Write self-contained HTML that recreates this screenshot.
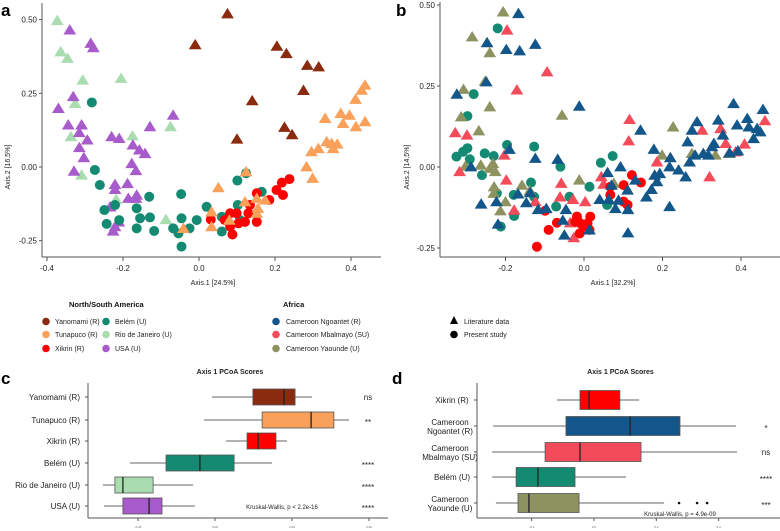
<!DOCTYPE html>
<html><head><meta charset="utf-8"><style>
html,body{margin:0;padding:0;background:#fff;}
svg{display:block;font-family:"Liberation Sans",sans-serif;}
</style></head><body>
<svg id="fig" width="780" height="531" viewBox="0 0 780 531" xmlns="http://www.w3.org/2000/svg">
<g id="layer"></g>
</svg>
<script>
// ---------- DATA ----------
const groupsA = ["Yanomami (R)","Tunapuco (R)","Xikrin (R)","Belém (U)","Rio de Janeiro (U)","USA (U)"];
const colorsA = ["#8a2a0e","#f9a05a","#ff0000","#148a73","#a9ddb0","#a85bcb"];
const shapesA = ["tri","tri","circ","circ","tri","tri"];
const ptsYanomami = [[0.075,0.52],[-0.01,0.415],[0.205,0.41],[0.23,0.385],[0.285,0.345],[0.315,0.34],[0.14,0.225],[0.275,0.26],[0.225,0.135],[0.245,0.11],[0.10,0.095]];
const ptsTunapuco = [[0.437,0.278],[0.428,0.261],[0.412,0.23],[0.437,0.154],[0.396,0.176],[0.373,0.182],[0.379,0.148],[0.413,0.137],[0.332,0.165],[0.336,0.086],[0.349,0.08],[0.364,0.078],[0.353,0.063],[0.314,0.063],[0.296,0.052],[0.283,0.001],[0.299,-0.038],[0.124,-0.016],[0.051,-0.07],[0.121,-0.118],[0.152,-0.106],[0.174,-0.112],[0.155,-0.14],[0.152,-0.157],[0.033,-0.152],[0.033,-0.202],[0.08,-0.18],[-0.041,-0.208]];
const ptsXikrinA = [[0.238,-0.041],[0.218,-0.053],[0.204,-0.078],[0.221,-0.095],[0.185,-0.112],[0.152,-0.089],[0.13,-0.157],[0.152,-0.186],[0.121,-0.186],[0.104,-0.191],[0.082,-0.157],[0.068,-0.18],[0.082,-0.202],[0.088,-0.229],[0.031,-0.178],[0.099,-0.157],[0.134,-0.129]];
const ptsBelemA = [[-0.282,0.219],[-0.274,-0.01],[-0.261,-0.061],[-0.249,-0.146],[-0.243,-0.193],[-0.221,-0.129],[-0.21,-0.18],[-0.164,-0.14],[-0.164,-0.208],[-0.155,-0.174],[-0.131,-0.101],[-0.129,-0.171],[-0.118,-0.217],[-0.047,-0.092],[-0.046,-0.174],[-0.068,-0.208],[-0.054,-0.225],[-0.046,-0.27],[-0.025,-0.208],[-0.006,-0.18],[0.02,-0.135],[0.06,-0.169],[0.06,-0.219],[0.101,-0.046],[0.124,-0.021],[0.108,-0.18],[0.165,-0.084],[0.102,-0.129]];
const ptsRio = [[-0.373,0.497],[-0.364,0.391],[-0.346,0.369],[-0.306,0.295],[-0.205,0.301],[-0.326,0.216],[-0.337,0.103],[-0.309,-0.027],[-0.175,0.106],[-0.075,0.137],[-0.218,-0.11],[-0.087,-0.178]];
const ptsUSA = [[-0.34,0.465],[-0.285,0.42],[-0.278,0.405],[-0.331,0.239],[-0.37,0.199],[-0.344,0.143],[-0.309,0.143],[-0.315,0.117],[-0.315,0.066],[-0.294,0.092],[-0.303,0.032],[-0.329,-0.014],[-0.23,0.103],[-0.21,0.097],[-0.129,0.137],[-0.068,0.176],[-0.174,0.075],[-0.157,0.058],[-0.142,0.046],[-0.177,0.012],[-0.166,-0.012],[-0.221,-0.059],[-0.221,-0.076],[-0.188,-0.056],[-0.186,-0.106],[-0.164,-0.095],[-0.166,-0.106],[-0.234,-0.135],[-0.211,-0.186],[-0.221,-0.202],[-0.226,-0.217]];

const groupsB = ["Cameroon Ngoantet (R)","Cameroon Mbalmayo (SU)","Cameroon Yaounde (U)","Belém (U)","Xikrin (R)"];
const colorsB = ["#12568a","#f44b5b","#8e9260","#148a73","#ff0000"];
const shapesB = ["tri","tri","tri","circ","circ"];
const ptsNgoantet = [[-0.167,0.474],[-0.247,0.384],[-0.198,0.363],[-0.164,0.359],[-0.124,0.379],[-0.324,0.225],[-0.249,0.263],[-0.012,0.188],[-0.288,0.001],[-0.19,0.055],[-0.124,0.027],[-0.067,0.024],[-0.262,-0.114],[-0.223,-0.107],[-0.219,-0.176],[-0.168,-0.083],[-0.147,-0.11],[-0.137,-0.079],[-0.117,-0.131],[-0.096,-0.128],[-0.054,-0.164],[-0.05,-0.21],[-0.046,-0.131],[0.014,-0.194],[0.06,-0.017],[0.07,-0.056],[0.093,0.001],[0.04,-0.1],[0.063,-0.1],[0.088,-0.102],[0.08,-0.128],[0.112,-0.131],[0.111,-0.071],[0.131,-0.04],[0.144,0.114],[0.112,-0.203],[0.159,-0.092],[0.172,-0.069],[0.178,0.055],[0.18,-0.025],[0.193,-0.02],[0.186,-0.045],[0.218,-0.122],[0.22,0.029],[0.218,0.001],[0.241,-0.009],[0.259,-0.03],[0.264,0.078],[0.269,0.016],[0.275,0.114],[0.288,0.14],[0.283,0.037],[0.304,0.042],[0.317,0.037],[0.326,0.063],[0.331,0.073],[0.342,0.145],[0.354,0.099],[0.381,0.196],[0.371,0.044],[0.39,0.13],[0.392,0.05],[0.416,0.15],[0.42,0.124],[0.432,0.088],[0.441,0.119],[0.449,0.109],[0.456,0.178]];
const ptsMbalmayo = [[-0.196,0.423],[-0.094,0.294],[-0.171,0.238],[-0.328,0.106],[-0.298,0.099],[-0.317,-0.014],[-0.203,0.037],[-0.198,-0.04],[-0.178,-0.133],[-0.124,-0.107],[-0.058,-0.05],[-0.061,-0.092],[-0.028,-0.1],[0.003,-0.107],[-0.026,-0.218],[-0.035,-0.172],[0.044,-0.03],[0.116,0.147],[0.114,0.081],[0.186,0.016],[0.301,0.114],[0.32,-0.03],[0.348,0.119],[0.361,0.073],[0.409,0.071],[0.386,0.047],[0.461,0.143],[0.05,-0.053]];
const ptsYaounde = [[-0.206,0.479],[-0.285,0.402],[-0.24,0.353],[-0.252,0.265],[-0.307,0.24],[-0.313,0.155],[-0.24,0.186],[-0.268,0.112],[-0.056,0.16],[-0.302,0.003],[-0.263,0.006],[-0.24,-0.004],[-0.232,0.011],[-0.226,-0.014],[-0.229,-0.061],[-0.23,-0.081],[-0.2,-0.107],[-0.213,-0.135],[-0.158,-0.056],[-0.138,-0.073],[-0.012,-0.04],[0.227,0.124],[0.199,0.037],[0.275,0.042],[0.335,0.037],[0.369,0.042],[0.076,-0.05]];
const ptsBelemB = [[-0.22,0.428],[-0.281,0.225],[-0.297,0.157],[-0.325,0.032],[-0.308,0.047],[-0.297,0.058],[-0.291,0.024],[-0.26,-0.025],[-0.253,0.042],[-0.23,0.034],[-0.196,0.068],[-0.127,0.063],[-0.179,-0.086],[-0.178,-0.151],[-0.212,-0.184],[-0.222,-0.081],[-0.135,-0.048],[-0.127,-0.092],[-0.071,-0.122],[-0.06,0.001],[-0.037,-0.092],[0.043,0.013],[0.073,0.034],[0.014,-0.061],[0.059,-0.117]];
const ptsXikrinB = [[-0.12,-0.246],[-0.09,-0.194],[-0.099,-0.135],[-0.069,-0.172],[-0.018,-0.153],[-0.011,-0.205],[-0.001,-0.184],[0.009,-0.174],[-0.009,-0.174],[-0.022,-0.169],[0.016,-0.153],[0.067,-0.061],[0.067,-0.086],[0.101,-0.056],[0.101,-0.107],[0.111,-0.117],[0.122,-0.025],[0.145,-0.048],[0.014,-0.194]];

const scatterTicksX_A = [-0.4,-0.2,0.0,0.2,0.4];
const scatterTicksX_B = [-0.2,0.0,0.2,0.4];
const scatterTicksY = [0.50,0.25,0.00,-0.25];

// box plot c: [lowWhisker, q1, median, q3, highWhisker]
const boxCats_C = ["Yanomami (R)","Tunapuco (R)","Xikrin (R)","Belém (U)","Rio de Janeiro (U)","USA (U)"];
const boxStats_C = [[-0.01,0.123,0.224,0.26,0.315],[-0.036,0.153,0.312,0.386,0.435],[0.036,0.104,0.140,0.198,0.234],[-0.276,-0.159,-0.049,0.062,0.185],[-0.364,-0.325,-0.299,-0.201,-0.071],[-0.360,-0.299,-0.214,-0.172,-0.065]];
const boxSig_C = ["ns","**","","****","****","****"];
const boxTicks_C = [-0.25,0.00,0.25,0.50];

const boxCats_D = [["Xikrin (R)"],["Cameroon","Ngoantet (R)"],["Cameroon","Mbalmayo (SU)"],["Belém (U)"],["Cameroon","Yaounde (U)"]];
const boxStats_D = [[-0.119,-0.045,-0.016,0.083,0.145],[-0.324,-0.090,0.116,0.276,0.456],[-0.327,-0.157,-0.045,0.151,0.459],[-0.327,-0.250,-0.180,-0.061,0.103],[-0.315,-0.244,-0.209,-0.048,0.225]];
const boxOutliers_D = [[],[],[],[],[0.273,0.331,0.363]];
const boxSig_D = ["","*","ns","****","***"];
const boxColors_D = ["#ff0000","#12568a","#f44b5b","#148a73","#8e9260"];
const boxTicks_D = [-0.2,0.0,0.2,0.4];

// ---------- HELPERS ----------
const NS="http://www.w3.org/2000/svg";
const root=document.getElementById('layer');
function mk(tag,attrs,parent){const e=document.createElementNS(NS,tag);for(const k in attrs)e.setAttribute(k,attrs[k]);(parent||root).appendChild(e);return e;}
function txt(s,x,y,size,anchor,parent,extra){const e=mk('text',Object.assign({x:x,y:y,'font-size':size,'text-anchor':anchor||'start',fill:'#222'},extra||{}),parent);e.textContent=s;return e;}
function marker(shape,cx,cy,color,parent){
  if(shape==='circ') return mk('circle',{cx:cx,cy:cy,r:5,fill:color},parent);
  const s=5.8;return mk('polygon',{points:`${cx},${cy-s} ${cx-s*1.1},${cy+s*0.8} ${cx+s*1.1},${cy+s*0.8}`,fill:color},parent);
}

// ---------- PANEL A ----------
const gA=mk('g',{});


const xA=v=>199+v*380, yA=v=>167-v*294.8;
let t=txt('a',1,16,17,'start',gA,{'font-weight':'bold',fill:'#000'});

mk('line',{x1:42,y1:3,x2:42,y2:257,stroke:'#555','stroke-width':1},gA);
mk('line',{x1:42,y1:257,x2:381,y2:257,stroke:'#555','stroke-width':1},gA);
scatterTicksY.forEach(v=>{mk('line',{x1:39,y1:yA(v),x2:42,y2:yA(v),stroke:'#555'},gA);const e=txt(v.toFixed(2),37,yA(v)+3,8,'end',gA);});
scatterTicksX_A.forEach(v=>{mk('line',{x1:xA(v),y1:257,x2:xA(v),y2:261,stroke:'#555'},gA);const e=txt(v.toFixed(1),xA(v),271,8,'middle',gA);});
t=txt('Axis.1   [24.5%]',213,285,7,'middle',gA);
t=txt('Axis.2   [16.5%]',0,0,7,'middle',gA,{transform:'translate(10,167) rotate(-90)'});
[[ptsRio,4],[ptsUSA,5],[ptsBelemA,3],[ptsYanomami,0],[ptsXikrinA,2],[ptsTunapuco,1]].forEach(([arr,i])=>{
  arr.forEach(p=>{const m=marker(shapesA[i],xA(p[0]),yA(p[1]),colorsA[i],gA);
    
    });
});

// ---------- PANEL B ----------
const gB=mk('g',{});


const xB=v=>584+v*392.5, yB=v=>167-v*324;
t=txt('b',396,16,17,'start',gB,{'font-weight':'bold',fill:'#000'});

mk('line',{x1:440,y1:2,x2:440,y2:257,stroke:'#555'},gB);
mk('line',{x1:440,y1:257,x2:780,y2:257,stroke:'#555'},gB);
scatterTicksY.forEach(v=>{mk('line',{x1:437,y1:yB(v),x2:440,y2:yB(v),stroke:'#555'},gB);const e=txt(v.toFixed(2),435,yB(v)+3,8,'end',gB);});
scatterTicksX_B.forEach(v=>{mk('line',{x1:xB(v),y1:257,x2:xB(v),y2:261,stroke:'#555'},gB);const e=txt(v.toFixed(1),xB(v),271,8,'middle',gB);});
t=txt('Axis.1   [32.2%]',613,285,7,'middle',gB);
t=txt('Axis.2   [14.5%]',0,0,7,'middle',gB,{transform:'translate(409,167) rotate(-90)'});
[[ptsBelemB,3],[ptsYaounde,2],[ptsMbalmayo,1],[ptsXikrinB,4],[ptsNgoantet,0]].forEach(([arr,i])=>{
  arr.forEach(p=>{const m=marker(shapesB[i],xB(p[0]),yB(p[1]),colorsB[i],gB);
    
    });
});

// ---------- LEGENDS ----------
const gL=mk('g',{});


t=txt('North/South America',69,307,7.5,'start',gL,{'font-weight':'bold',fill:'#111'});
const legRowsY=[324,337,351];
groupsA.forEach((g,i)=>{const col=i<3?0:1,row=i%3;const cx=col?106:46;
  const c=mk('circle',{cx:cx,cy:legRowsY[row]-2.5,r:3.8,fill:colorsA[i]},gL);
  const e=txt(g,cx+9,legRowsY[row],7,'start',gL);});
t=txt('Africa',283,307,7.5,'start',gL,{'font-weight':'bold',fill:'#111'});
groupsB.slice(0,3).forEach((g,i)=>{
  const c=mk('circle',{cx:276,cy:legRowsY[i]-2.5,r:3.8,fill:colorsB[i]},gL);
  const e=txt(g,286,legRowsY[i],7,'start',gL);});
let tri=mk('polygon',{points:'454,316 450,324 458,324',fill:'#000'},gL);
t=txt('Literature data',464,324,7,'start',gL);
let cc=mk('circle',{cx:454,cy:334.5,r:3.8,fill:'#000'},gL);
t=txt('Present study',464,337,7,'start',gL);

// ---------- BOX PLOTS ----------
function boxPanel(name,letter,lx,axX,axRight,scale,rowsY,boxH,cats,stats,colors,sig,sigX,ticks,tickFmt,kw,kwX,outliers){
  const g=mk('g',{});
  
  
  let e=txt(letter,lx,384,17,'start',g,{'font-weight':'bold',fill:'#000'});
  e=txt('Axis 1 PCoA Scores',(axX+axRight)/2-8,374,7,'middle',g,{'font-weight':'bold'});
  mk('line',{x1:axX,y1:383,x2:axX,y2:518,stroke:'#555'},g);
  mk('line',{x1:axX,y1:518,x2:axRight,y2:518,stroke:'#555'},g);
  ticks.forEach(v=>{mk('line',{x1:scale(v),y1:518,x2:scale(v),y2:521,stroke:'#555'},g);const tl=txt(tickFmt(v),scale(v),528,3,'middle',g,{fill:'#666'});});
  stats.forEach((s,i)=>{const y=rowsY[i];
    mk('line',{x1:axX-3,y1:y,x2:axX,y2:y,stroke:'#555'},g);
    const lab=cats[i];
    if(Array.isArray(lab)){
      if(lab.length===1){const l=txt(lab[0],452,y+3,8,'middle',g);}
      else{lab.forEach((s2,k)=>{const l=txt(s2,450,y-1+k*9,8,'middle',g);});}
    } else {const l=txt(lab,axX-8,y+3,8,'end',g);}
    const w=mk('line',{x1:scale(s[0]),y1:y,x2:scale(s[4]),y2:y,stroke:'#666','stroke-width':1},g);
    
    const b=mk('rect',{x:scale(s[1]),y:y-boxH/2,width:scale(s[3])-scale(s[1]),height:boxH,fill:colors[i],stroke:'#555','stroke-width':0.8},g);
    
    const m=mk('line',{x1:scale(s[2]),y1:y-boxH/2,x2:scale(s[2]),y2:y+boxH/2,stroke:'#222','stroke-width':1.3},g);
    
    (outliers?outliers[i]:[]).forEach(o=>{const oc=mk('circle',{cx:scale(o),cy:y,r:1.3,fill:'#111'},g);});
    if(sig[i]){const st=txt(sig[i],sigX,y+(sig[i].startsWith('*')?5:3),8,'middle',g);}
  });
  e=txt(kw[0],kwX,kw[1],6,'middle',g);
}
boxPanel('panel-c-boxplot','c',1,88,388,v=>215+v*308,[397,420,441,463,485,506],16,boxCats_C,boxStats_C,colorsA,boxSig_C,368,boxTicks_C,v=>v.toFixed(2),['Kruskal-Wallis, p < 2.2e-16',509],282,null);
boxPanel('panel-d-boxplot','d',392,477,780,v=>594+v*311.5,[400,426,452,477,503],19,boxCats_D,boxStats_D,boxColors_D,boxSig_D,766,boxTicks_D,v=>v.toFixed(1),['Kruskal-Wallis, p = 4.9e-09',516],680,boxOutliers_D);
</script>
</body></html>
